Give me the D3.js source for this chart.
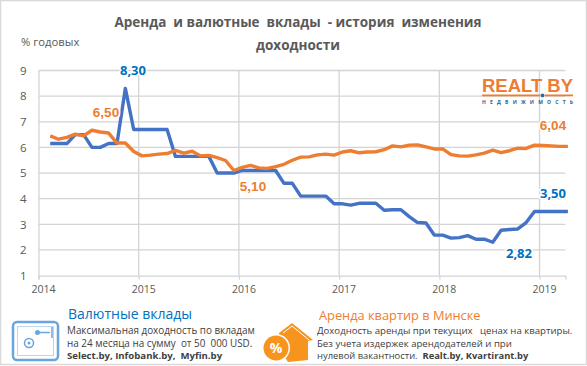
<!DOCTYPE html>
<html>
<head>
<meta charset="utf-8">
<script src="https://d3js.org/d3.v7.min.js"></script>
<style>
  html, body { margin: 0; padding: 0; background: #fff; }
  svg { display: block; }
  text { font-family: "Open Sans", sans-serif; white-space: pre; }
</style>
</head>
<body>
<svg id="chart"></svg>
<script>
const yearTicks = [0, 12, 24, 36, 48, 60];
const yearLabels = ["2014", "2015", "2016", "2017", "2018", "2019"];
const yTicks = [1, 2, 3, 4, 5, 6, 7, 8, 9];

// monthly values, feb 2014 .. apr 2019
const deposits = [6.15, 6.15, 6.15, 6.5, 6.5, 6.0, 6.0, 6.15, 6.15, 8.3,
    6.7, 6.7, 6.7, 6.7, 6.7, 5.65, 5.65, 5.65, 5.65, 5.65,
    5.0, 5.0, 5.0, 5.1, 5.1, 5.1, 5.1, 5.1, 4.6, 4.6,
    4.1, 4.1, 4.1, 4.1, 3.8, 3.8, 3.75, 3.82, 3.82, 3.82,
    3.55, 3.57, 3.57, 3.3, 3.07, 3.05, 2.58, 2.58, 2.46, 2.48,
    2.56, 2.42, 2.42, 2.3, 2.77, 2.8, 2.82, 3.07, 3.5, 3.5,
    3.5, 3.5, 3.5];
const rent = [6.45, 6.32, 6.39, 6.52, 6.45, 6.67, 6.6, 6.56, 6.17, 6.17,
    5.84, 5.67, 5.7, 5.74, 5.76, 5.88, 5.78, 5.85, 5.67, 5.69,
    5.6, 5.49, 5.1, 5.22, 5.3, 5.2, 5.18, 5.25, 5.34, 5.5,
    5.62, 5.63, 5.71, 5.74, 5.7, 5.82, 5.87, 5.79, 5.82, 5.83,
    5.91, 6.06, 6.02, 6.09, 6.1, 6.02, 5.94, 5.94, 5.72, 5.67,
    5.66, 5.71, 5.78, 5.89, 5.8, 5.87, 5.97, 5.96, 6.09, 6.08,
    6.06, 6.04, 6.04];

const titleLines = ["Аренда  и валютные  вклады  - история  изменения", "доходности"];
const depositNotes = ["Максимальная доходность по вкладам", "на 24 месяца на сумму  от 50  000 USD."];
const rentNotes = ["Доходность аренды при текущих   ценах на квартиры.", "Без учета издержек арендодателей и при"];

const svg_width = 587, svg_height = 366;
const svg = d3.select("#chart").attr("width", svg_width).attr("height", svg_height);

svg.append("rect").attr("x", 0.5).attr("y", 0.5)
    .attr("width", svg_width - 1).attr("height", svg_height - 2)
    .attr("fill", "#fff").attr("stroke", "#d9d9d9").attr("stroke-width", 1.5);

const x = d3.scaleLinear().domain([0, 63.1]).range([38.5, 565.4]);
const y = d3.scaleLinear().domain([1, 9]).range([275.6, 70.5]);
const monthPos = i => i + 1.4;

// grid + axes
svg.append("g")
    .attr("transform", "translate(0,275.6)")
    .call(d3.axisBottom(x).tickValues(yearTicks).tickFormat((d, i) => yearLabels[i]).tickSize(4).tickPadding(6))
    .call(g => g.select(".domain").attr("stroke", "#d4d4d4").attr("stroke-width", 1.3))
    .call(g => g.selectAll("line").attr("stroke", "#d4d4d4").attr("stroke-width", 1.3))
    .call(g => g.selectAll("text").attr("fill", "#595959").attr("dx", 4.5).style("font-size", "10.5px"));

svg.append("g")
    .attr("transform", "translate(38.5,0)")
    .call(d3.axisLeft(y).tickValues(yTicks).tickFormat(d3.format("d")).tickSize(0).tickPadding(12))
    .call(g => g.select(".domain").attr("stroke", "#d4d4d4").attr("stroke-width", 1.3))
    .call(g => g.selectAll("text").attr("fill", "#595959").style("font-size", "11.5px"));

svg.append("g").selectAll("line").data(yTicks.slice(1)).join("line")
    .attr("x1", x.range()[0]).attr("x2", x.range()[1])
    .attr("y1", d => y(d)).attr("y2", d => y(d))
    .attr("stroke", "#d4d4d4").attr("stroke-width", 1.3);

svg.append("g").selectAll("line").data(yearTicks.slice(1)).join("line")
    .attr("x1", d => x(d)).attr("x2", d => x(d))
    .attr("y1", y(9)).attr("y2", y(1))
    .attr("stroke", "#d4d4d4").attr("stroke-width", 1.3);

// lines
const line = d3.line().x((d, i) => x(monthPos(i))).y(d => y(d));

svg.append("path").datum(deposits).attr("fill", "none").attr("stroke", "#4472c4")
    .attr("stroke-width", 3.4).attr("stroke-linejoin", "round").attr("d", line);
svg.append("path").datum(rent).attr("fill", "none").attr("stroke", "#ed7d31")
    .attr("stroke-width", 3.4).attr("stroke-linejoin", "round").attr("d", line);

// title
svg.append("g").selectAll("text").data(titleLines).join("text")
    .attr("x", 298).attr("y", (d, i) => 27 + i * 22.5)
    .attr("text-anchor", "middle")
    .attr("fill", "#595959").attr("font-weight", 700).style("font-size", "13.5px")
    .text(d => d);

svg.append("text").attr("x", 21).attr("y", 46).attr("fill", "#595959")
    .style("font-size", "11.3px").text("% годовых");

// value labels
function valueLabel(text, lx, ly, color, family, size) {
    svg.append("text").attr("x", lx).attr("y", ly).attr("text-anchor", "middle")
        .attr("fill", color).attr("font-weight", 700)
        .attr("stroke", "#fff").attr("stroke-width", 3).attr("paint-order", "stroke")
        .style("font-family", family).style("font-size", size + "px")
        .text(text);
}
const sansA = '"Open Sans", sans-serif', sansB = '"Liberation Sans", sans-serif';
valueLabel("8,30", 133, 75, "#0070c0", sansA, 13);
valueLabel("6,50", 106, 117, "#ed7d31", sansB, 13.5);
valueLabel("5,10", 253, 191, "#ed7d31", sansB, 13.5);
valueLabel("6,04", 553, 130, "#ed7d31", sansB, 13.5);
valueLabel("3,50", 553, 198, "#0070c0", sansA, 13);
valueLabel("2,82", 519, 258, "#0070c0", sansA, 13);

// logo
const logo = svg.append("g");
logo.append("text").attr("x", 482).attr("y", 92).attr("fill", "#ed7d31").attr("font-weight", 700)
    .style("font-family", sansB).style("font-size", "19px").attr("textLength", 91).attr("lengthAdjust", "spacingAndGlyphs")
    .text("REALT BY");
logo.append("rect").attr("x", 482).attr("y", 94.5).attr("width", 91).attr("height", 1.8).attr("fill", "#ed7d31");
logo.append("circle").attr("cx", 542.5).attr("cy", 95.4).attr("r", 2.4).attr("fill", "#fff");
logo.append("circle").attr("cx", 542.5).attr("cy", 95.4).attr("r", 1.9).attr("fill", "#1f6fb5");
logo.append("text").attr("x", 482).attr("y", 104).attr("fill", "#2f5f8f").attr("font-weight", 700)
    .style("font-size", "5px").attr("textLength", 91).text("НЕДВИЖИМОСТЬ");

// footer, left
svg.append("text").attr("x", 68).attr("y", 319).attr("fill", "#0070c0")
    .style("font-size", "14px").text("Валютные вклады");
svg.append("g").selectAll("text").data(depositNotes).join("text")
    .attr("x", 67).attr("y", (d, i) => 334 + i * 12.5)
    .attr("fill", "#404040").style("font-size", "9.9px").text(d => d);
svg.append("text").attr("x", 67).attr("y", 359).attr("fill", "#404040").attr("font-weight", 700)
    .style("font-size", "9.6px").text("Select.by, Infobank.by,  Myfin.by");

// footer, right
svg.append("text").attr("x", 319).attr("y", 320).attr("fill", "#ed7d31")
    .style("font-size", "12.8px").text("Аренда квартир в Минске");
svg.append("g").selectAll("text").data(rentNotes).join("text")
    .attr("x", 317).attr("y", (d, i) => 334 + i * 12.5)
    .attr("fill", "#404040").style("font-size", "9.6px").text(d => d);
const lastNote = svg.append("text").attr("x", 317).attr("y", 359).attr("fill", "#404040").style("font-size", "9.4px");
lastNote.append("tspan").text("нулевой вакантности.  ");
lastNote.append("tspan").attr("font-weight", 700).text("Realt.by, Kvartirant.by");

// safe icon
const safe = svg.append("g");
safe.append("rect").attr("x", 13).attr("y", 322).attr("width", 45).attr("height", 38).attr("rx", 4)
    .attr("fill", "#fff").attr("stroke", "#6aa5dc").attr("stroke-width", 2.5);
safe.append("rect").attr("x", 17.5).attr("y", 326.5).attr("width", 36).attr("height", 29)
    .attr("fill", "#fff").attr("stroke", "#bcd6ef").attr("stroke-width", 1);
safe.append("circle").attr("cx", 29).attr("cy", 343).attr("r", 4.5).attr("fill", "none")
    .attr("stroke", "#6aa5dc").attr("stroke-width", 1.5);
safe.append("circle").attr("cx", 29).attr("cy", 343).attr("r", 1.5).attr("fill", "#6aa5dc");
safe.append("line").attr("x1", 37).attr("y1", 332.5).attr("x2", 50).attr("y2", 332.5)
    .attr("stroke", "#6aa5dc").attr("stroke-width", 1.5);
safe.append("circle").attr("cx", 37.5).attr("cy", 332.5).attr("r", 2.5).attr("fill", "#6aa5dc");
safe.append("line").attr("x1", 52).attr("y1", 327).attr("x2", 52).attr("y2", 338)
    .attr("stroke", "#6aa5dc").attr("stroke-width", 1.5);

// house icon
const house = svg.append("g");
house.append("path")
    .attr("d", "M279 333 L292 323 L313 340 L308 341 L308 360 L288 362 L280 350 Z")
    .attr("fill", "#f7941e");
house.append("path").attr("d", "M283 333 L292 326 L309 340").attr("fill", "none")
    .attr("stroke", "#fff").attr("stroke-width", 1);
house.append("circle").attr("cx", 276).attr("cy", 348).attr("r", 14).attr("fill", "#fff");
house.append("circle").attr("cx", 276).attr("cy", 348).attr("r", 12.5).attr("fill", "#f7941e");
house.append("text").attr("x", 276).attr("y", 353).attr("text-anchor", "middle").attr("fill", "#fff")
    .attr("font-weight", 700).style("font-size", "14px").text("%");
</script>
</body>
</html>
